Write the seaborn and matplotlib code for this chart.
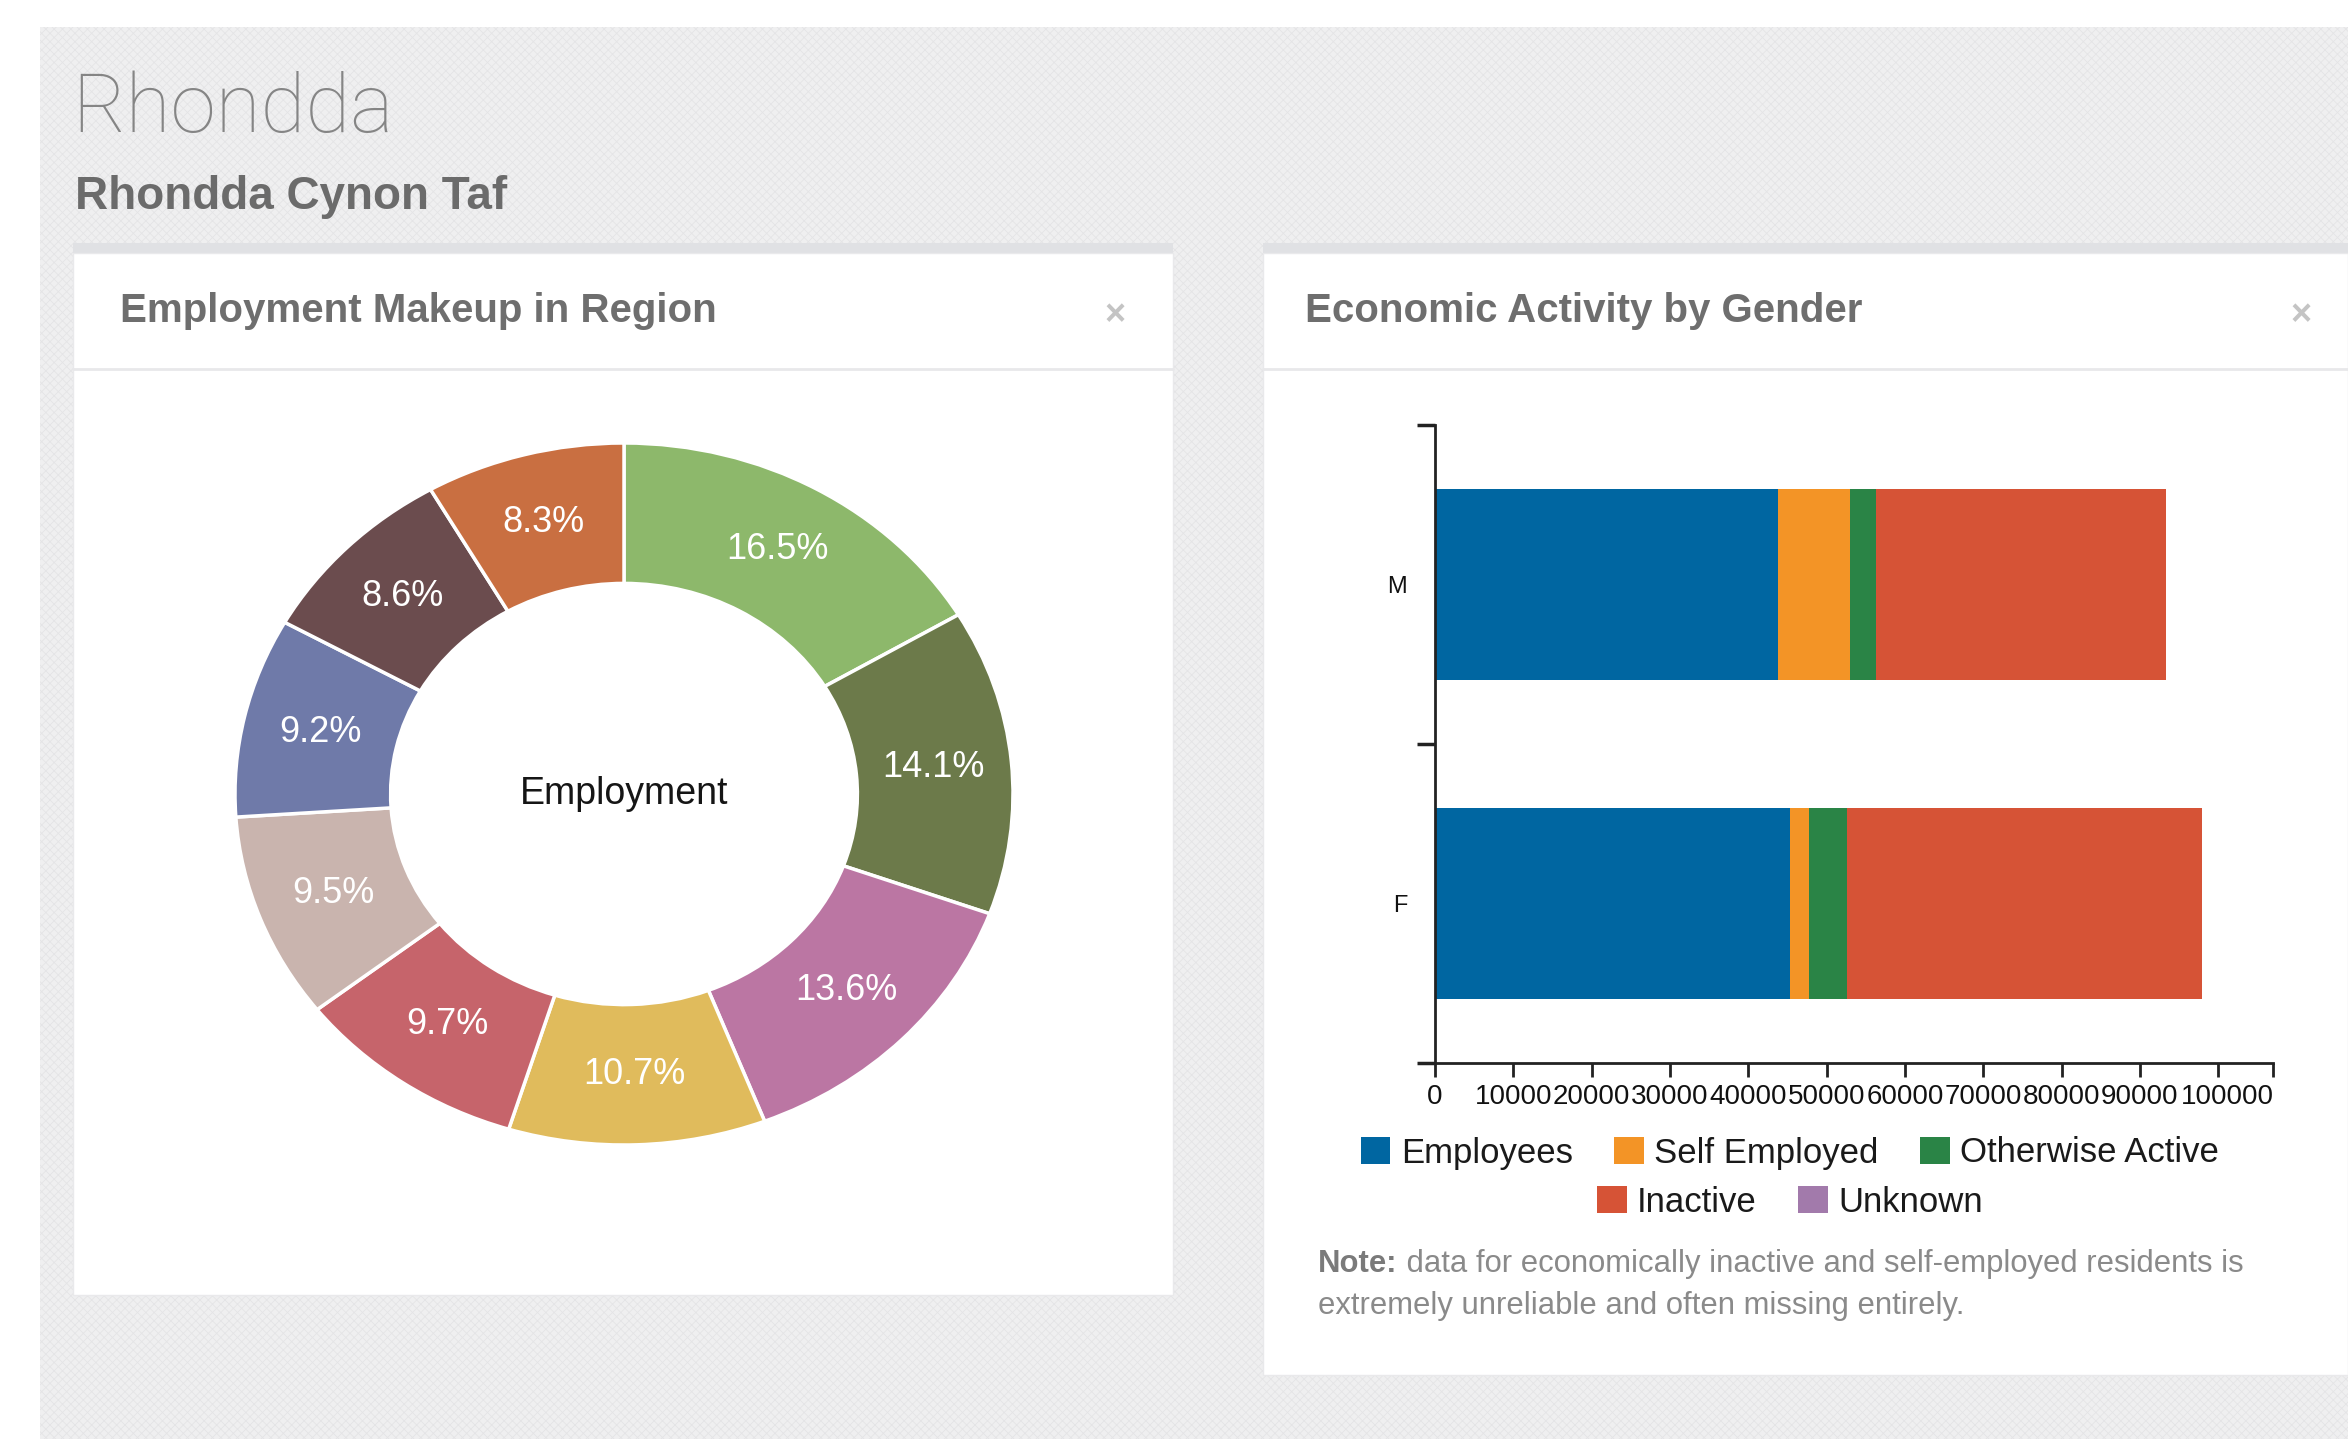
import matplotlib
matplotlib.use("Agg")
from matplotlib import pyplot as plt
from matplotlib.patches import Rectangle, Patch
from matplotlib.lines import Line2D
import matplotlib.transforms as mtransforms
import seaborn as sns
import pandas as pd

W, H = 2348, 1439

# employment makeup (clockwise from 12 o'clock)
sector_pct = [16.5, 14.1, 13.6, 10.7, 9.7, 9.5, 9.2, 8.6, 8.3]
sector_colors = ['#8db86b', '#6c7a4a', '#bb76a3', '#e0bb5c', '#c6646b',
                 '#c9b4ae', '#6f7aa9', '#6b4c4e', '#c96f41']

# economic activity by gender
genders = ["M", "F"]
activity_types = ["Employees", "Self Employed", "Otherwise Active", "Inactive", "Unknown"]
employees = [43800, 45300]
self_employed = [9200, 2500]
otherwise_active = [3300, 4800]
inactive = [37000, 45300]
unknown = [0, 0]
activity_colors = ['#0066a1', '#f39426', '#2a8446', '#d65336', '#a27aab']
x_ticks = [0, 10000, 20000, 30000, 40000, 50000, 60000, 70000, 80000, 90000, 100000]
x_max = 107000


def fx(x):
    return x / W


def fy(y):
    return 1 - y / H


sns.set_theme(style="white")
plt.rcParams['font.family'] = ['Liberation Sans', 'DejaVu Sans']
plt.rcParams['hatch.linewidth'] = 0.6

fig = plt.figure(figsize=(W / 100, H / 100), dpi=100, facecolor='white')

# page background + cards (kept below the axes)
fig.add_artist(Rectangle((fx(40), 0), 1 - fx(40), fy(27), transform=fig.transFigure,
                         facecolor='#efeff0', edgecolor='#e4e4e6', hatch='xxxx', linewidth=0, zorder=-5))
for x0, x1, y1 in [(73, 1173, 1295), (1263, 2348, 1375)]:
    fig.add_artist(Rectangle((fx(x0), fy(253)), fx(x1 - x0), 10 / H, transform=fig.transFigure,
                             facecolor='#e0e1e4', linewidth=0, zorder=-4))
    fig.add_artist(Rectangle((fx(x0), fy(y1)), fx(x1 - x0), (y1 - 253) / H, transform=fig.transFigure,
                             facecolor='white', edgecolor='#e9e9eb', linewidth=1, zorder=-4))
    fig.add_artist(Line2D([fx(x0), fx(x1)], [fy(369), fy(369)], transform=fig.transFigure,
                          color='#e8e8ea', lw=2, zorder=-3))

fig.text(fx(72), fy(132), "Rhondda", fontsize=59, family=['Roboto', 'DejaVu Sans'],
         fontweight='light', color='#858585', va='baseline')
fig.text(fx(75), fy(209), "Rhondda Cynon Taf", fontsize=33, fontweight='bold',
         color='#6b6b6b', va='baseline')
fig.text(fx(120), fy(322), "Employment Makeup in Region", fontsize=29, fontweight='bold',
         color='#6e6e6e', va='baseline')
fig.text(fx(1305), fy(322), "Economic Activity by Gender", fontsize=29, fontweight='bold',
         color='#6e6e6e', va='baseline')
for xc in [1115, 2301]:
    fig.text(fx(xc), fy(316), "×", fontsize=26, fontweight='bold', color='#c4c4c4',
             ha='center', va='center')

# donut (stretched to the ellipse of the reference)
ax1 = fig.add_axes([fx(235), fy(1145), fx(1013 - 235), (1145 - 443) / H])
wedges, _, autotexts = ax1.pie(sector_pct, colors=sector_colors, startangle=90, counterclock=False,
                               autopct='%.1f%%', pctdistance=0.8, radius=1,
                               wedgeprops=dict(width=0.4, edgecolor='white', linewidth=2.5),
                               textprops=dict(color='white', fontsize=26))
ax1.set_aspect('auto')
ax1.set_xlim(-1, 1)
ax1.set_ylim(-1, 1)
ax1.axis('off')
ax1.text(0, 0, "Employment", ha='center', va='center', fontsize=27, color='#151515')

# stacked horizontal bars
df = pd.DataFrame({"gender": genders, "Employees": employees, "Self Employed": self_employed,
                   "Otherwise Active": otherwise_active, "Inactive": inactive, "Unknown": unknown})
cum = df[activity_types].cumsum(axis=1)
cum["gender"] = df["gender"]

ax2 = fig.add_axes([fx(1435), fy(1063), fx(2273 - 1435), (1063 - 425) / H])
ax2.patch.set_alpha(0)
for name, col in reversed(list(zip(activity_types, activity_colors))):
    sns.barplot(data=cum, x=name, y="gender", order=genders, orient="h", color=col,
                saturation=1, width=0.6, linewidth=0, errorbar=None, ax=ax2)
ax2.set_xlabel("")
ax2.set_ylabel("")
ax2.set_xlim(0, x_max)
ax2.set_ylim(1.5, -0.5)
ax2.set_xticks(x_ticks)
ax2.set_xticklabels([str(t) for t in x_ticks])
ax2.set_xticks([x_max], minor=True)
ax2.set_yticks([0, 1])
ax2.set_yticklabels(genders)
ax2.set_yticks([-0.5, 0.5, 1.5], minor=True)
ax2.tick_params(axis='x', which='both', bottom=True, length=10, width=2, color='#222222',
                direction='out', pad=5, labelsize=20, labelcolor='#111111')
ax2.tick_params(axis='y', which='major', left=True, length=0, pad=20, labelsize=17,
                labelcolor='#111111')
ax2.tick_params(axis='y', which='minor', left=True, length=13, width=2.5, color='#222222')
sns.despine(ax=ax2)
for s in ['left', 'bottom']:
    ax2.spines[s].set_color('#222222')
    ax2.spines[s].set_linewidth(2)
# nudge the last label so it does not sit on top of "90000"
last = ax2.get_xticklabels()[-1]
last.set_transform(last.get_transform() + mtransforms.ScaledTranslation(9 / 100, 0, fig.dpi_scale_trans))

# legend in two centred rows
handles = [Patch(facecolor=c, edgecolor='none') for c in activity_colors]
for idx, yrow in [([0, 1, 2], 1153), ([3, 4], 1202)]:
    leg = fig.legend([handles[i] for i in idx], [activity_types[i] for i in idx],
                     loc='center', bbox_to_anchor=(fx(1790), fy(yrow)), ncol=len(idx),
                     frameon=False, fontsize=25, handlelength=0.85, handleheight=0.85,
                     handletextpad=0.3, columnspacing=1.2, borderpad=0)
    for t in leg.get_texts():
        t.set_color('#1a1a1a')

# note
fig.canvas.draw()
note_b = fig.text(fx(1318), fy(1264), "Note:", fontsize=22.3, fontweight='bold',
                  color='#7a7a7a', va='center')
ext = note_b.get_window_extent(fig.canvas.get_renderer())
fig.text(fx(1318), fy(1264), " data for economically inactive and self-employed residents is",
         fontsize=22.3, color='#8a8a8a', va='center',
         transform=mtransforms.offset_copy(fig.transFigure, fig=fig, x=ext.width, y=0, units='dots'))
fig.text(fx(1318), fy(1306), "extremely unreliable and often missing entirely.",
         fontsize=22.3, color='#8a8a8a', va='center')

fig.savefig("out.png", dpi=100, facecolor='white')
